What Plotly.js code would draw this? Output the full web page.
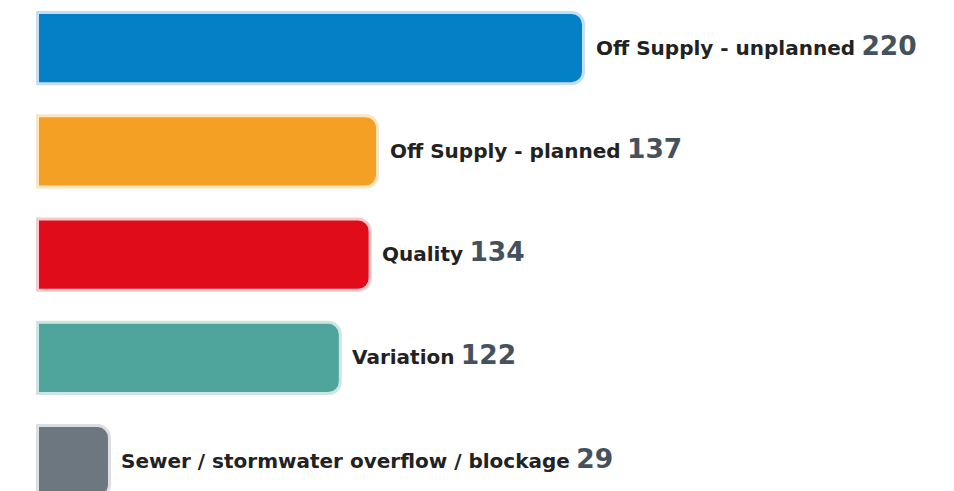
<!DOCTYPE html>
<html>
<head>
<meta charset="utf-8">
<script src="https://cdn.plot.ly/plotly-3.0.1.min.js"></script>
<style>html,body{margin:0;padding:0;background:#fff;}#chart{width:954px;height:491px;}</style>
</head>
<body>
<div id="chart"></div>
<script>
const categories = ["Off Supply - unplanned", "Off Supply - planned", "Quality", "Variation", "Sewer / stormwater overflow / blockage"];
const counts = [220, 137, 134, 122, 29];
const barColors = ["#0480c6", "#f4a025", "#e00c19", "#4fa59c", "#6c7780"];
const borderColors = ["#c6def0", "#fce5c3", "#f7c9cc", "#cde6e3", "#dcdfe2"];

const trace = {
  type: "bar",
  orientation: "h",
  x: counts,
  y: categories,
  marker: {
    color: barColors,
    line: {color: borderColors, width: 3},
    cornerradius: 12
  },
  hoverinfo: "none"
};

const annotations = categories.map((c, i) => ({
  x: counts[i],
  y: c,
  xref: "x",
  yref: "y",
  xanchor: "left",
  yanchor: "middle",
  xshift: 10,
  yshift: 3,
  showarrow: false,
  text: "<b>" + c + "</b> <span style='font-size:26.5px;color:#45525e'><b>" + counts[i] + "</b></span>",
  font: {family: "'DejaVu Sans', sans-serif", size: 20, color: "#222222"}
}));

const layout = {
  width: 954,
  height: 491,
  margin: {l: 0, r: 0, t: 0, b: 0, pad: 0},
  paper_bgcolor: "#ffffff",
  plot_bgcolor: "#ffffff",
  bargap: 0.31,
  showlegend: false,
  xaxis: {range: [-15.11, 369.26], visible: false, fixedrange: true},
  yaxis: {type: "category", range: [4.288, -0.465], visible: false, fixedrange: true},
  annotations: annotations
};

Plotly.newPlot("chart", [trace], layout, {displayModeBar: false, staticPlot: true});
</script>
</body>
</html>
